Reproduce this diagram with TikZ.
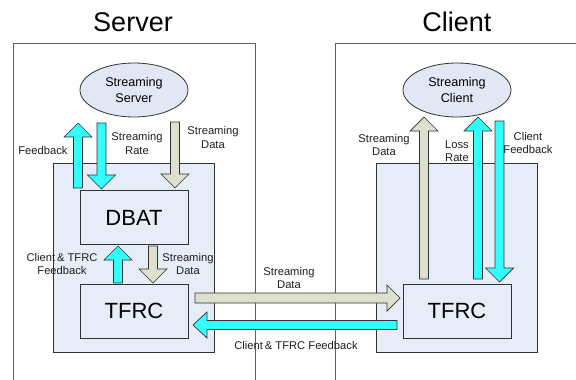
\documentclass[tikz,border=0pt]{standalone}
\usepackage{fontspec}
\setmainfont{Liberation Sans}
\usetikzlibrary{shapes.geometric}
\definecolor{cyanA}{RGB}{51,255,255}
\definecolor{beigeA}{RGB}{221,224,204}
\definecolor{boxfill}{RGB}{230,236,248}
\definecolor{ellfill}{RGB}{225,231,245}
\definecolor{edge}{RGB}{50,50,50}
\definecolor{frame}{RGB}{95,95,95}
\newcommand\uparr[4]{\draw[#1] ({#2-4.5},#4) -- ({#2-4.5},{#3+14}) -- ({#2-14},{#3+14}) -- (#2,#3) -- ({#2+14},{#3+14}) -- ({#2+4.5},{#3+14}) -- ({#2+4.5},#4) -- cycle;}
\newcommand\downarr[4]{\draw[#1] ({#2-4.5},#3) -- ({#2-4.5},{#4-14}) -- ({#2-14},{#4-14}) -- (#2,#4) -- ({#2+14},{#4-14}) -- ({#2+4.5},{#4-14}) -- ({#2+4.5},#3) -- cycle;}
\newcommand\rightarr[4]{\draw[#1] (#3,{#2-5}) -- ({#4-13},{#2-5}) -- ({#4-13},{#2-13}) -- (#4,#2) -- ({#4-13},{#2+13}) -- ({#4-13},{#2+5}) -- (#3,{#2+5}) -- cycle;}
\newcommand\leftarr[4]{\draw[#1] (#4,{#2-4.5}) -- ({#3+14},{#2-4.5}) -- ({#3+14},{#2-13}) -- (#3,#2) -- ({#3+14},{#2+13}) -- ({#3+14},{#2+4.5}) -- (#4,{#2+4.5}) -- cycle;}
\begin{document}
\begin{tikzpicture}[x=1pt,y=-1pt,
  cyanarrow/.style={fill=cyanA,draw=edge,line width=0.7pt,line join=miter},
  beigearrow/.style={fill=beigeA,draw=edge,line width=0.7pt,line join=miter},
  framebox/.style={draw=frame,line width=0.8pt},
  shadebox/.style={draw=edge,fill=boxfill,line width=0.8pt},
  blockbox/.style={draw=edge,fill=boxfill,line width=0.8pt,minimum width=108pt,minimum height=54pt,inner sep=0pt,font=\fontsize{22}{24}\selectfont},
  ell/.style={ellipse,draw=edge,fill=ellfill,line width=0.8pt,minimum width=108pt,minimum height=54pt,inner sep=0pt,align=center,font=\fontsize{12.6}{16}\selectfont},
  lbl/.style={align=center,inner sep=0pt,text=black!88,font=\fontsize{11.2}{13.5}\selectfont},
  title/.style={inner sep=0pt,font=\fontsize{27}{30}\selectfont}]
\useasboundingbox (0,0) rectangle (576,380);
\clip (0,0) rectangle (576,380);
% titles
\node[title] (tserver) at (133,22) {Server};
\node[title] (tclient) at (457,22) {Client};
% outer frames
\draw[framebox] (13,390) -- (13,43) -- (255,43) -- (255,390);
\draw[framebox] (335,390) -- (335,43) -- (590,43);
% inner shaded boxes
\draw[shadebox] (53,163) rectangle (214,352);
\draw[shadebox] (376,163) rectangle (537,352);
% server side
\node[ell] (sserver) at (134,90) {Streaming\\Server};
\node[blockbox] (dbat) at (134,217.5) {DBAT};
\node[blockbox] (tfrcs) at (134,311) {TFRC};
% client side
\node[ell] (sclient) at (457,90) {Streaming\\Client};
\node[blockbox] (tfrcc) at (457,311) {TFRC};
% server arrows
\uparr{cyanarrow}{78}{123}{188}
\downarr{cyanarrow}{101.5}{123}{189}
\downarr{beigearrow}{175}{122}{188}
\uparr{cyanarrow}{118}{246}{283}
\downarr{beigearrow}{153}{246}{283}
% horizontal arrows
\rightarr{beigearrow}{298}{195}{400}
\leftarr{cyanarrow}{325}{193}{397}
% client arrows
\uparr{beigearrow}{424}{117}{279}
\uparr{cyanarrow}{478}{117}{279}
\downarr{cyanarrow}{499.5}{121}{282}
% labels
\node[lbl] (lfb) at (43,150) {Feedback};
\node[lbl] (lsr) at (137,143.5) {Streaming\\Rate};
\node[lbl] (lsd1) at (213,137.5) {Streaming\\Data};
\node[lbl] (lctf) at (62,264) {Client\,\& TFRC\\Feedback};
\node[lbl] (lsd2) at (188,264) {Streaming\\Data};
\node[lbl] (lsd3) at (289,278) {Streaming\\Data};
\node[lbl] (lctf2) at (296,345) {Client\,\& TFRC Feedback};
\node[lbl] (lsd4) at (384,145) {Streaming\\Data};
\node[lbl] (llr) at (457,151) {Loss\\Rate};
\node[lbl] (lcf) at (528,143) {Client\\Feedback};
\end{tikzpicture}
\end{document}
